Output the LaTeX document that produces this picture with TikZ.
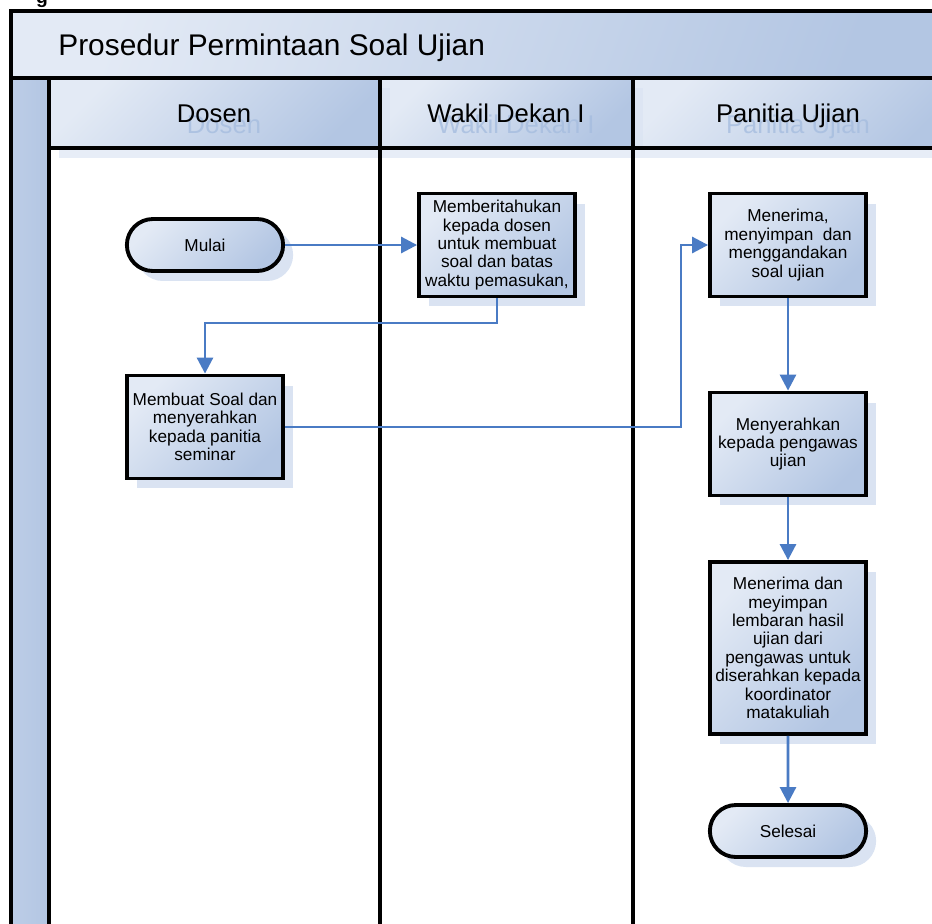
\documentclass[tikz,border=0pt]{standalone}
\usepackage{fontspec}
\setmainfont{Liberation Sans}
\usetikzlibrary{arrows.meta,positioning,shapes.misc,shadows}

\definecolor{laneLight}{HTML}{E3EAF5}
\definecolor{laneDark}{HTML}{B3C6E3}
\definecolor{shadowBlue}{HTML}{DAE3F2}
\definecolor{flowBlue}{HTML}{4A7BC4}
\definecolor{ghostBlue}{HTML}{A6BDDF}

\begin{document}
\begin{tikzpicture}[
  x=0.02cm, y=-0.02cm,
  >={Triangle[length=3.2mm, width=3.2mm]},
  bluefill/.style={left color=laneLight, right color=laneDark, shading angle=45},
  boxshadow/.style={drop shadow={shadow xshift=0.2cm, shadow yshift=-0.2cm,
                    fill=shadowBlue, opacity=1}},
  activity/.style={rectangle, draw, line width=2.2pt, bluefill, boxshadow,
                   minimum width=3.12cm, minimum height=2.06cm, align=center,
                   inner sep=1pt, font=\fontsize{9.8}{10.5}\selectfont},
  terminal/.style={rounded rectangle, draw, line width=2.2pt, bluefill, boxshadow,
                   minimum width=3.36cm, minimum height=1.04cm,
                   font=\fontsize{9.8}{10.5}\selectfont},
  flow/.style={->, line width=1.6pt, flowBlue},
  divider/.style={line width=2.3pt, black},
  lanelab/.style={anchor=base, font=\fontsize{14.6}{16}\selectfont},
  ghostlab/.style={lanelab, text=ghostBlue, text opacity=.8},
  hdshadow/.style={fill=shadowBlue, opacity=.65}
]
\useasboundingbox (0,0) rectangle (932,923);
\clip (0,0) rectangle (932,923);

% ---------- Pool and lanes ----------
\fill[bluefill, shading angle=70] (11,11) rectangle (950,78);
\fill[left color=laneDark!80!laneLight, right color=laneDark] (11,78) rectangle (49,940);
\foreach \xa/\xb in {49/380,380/633,633/960}
  \fill[bluefill] (\xa,78) rectangle (\xb,148);
\foreach \xa/\xb in {49/380,380/633,633/960}{
  \fill[hdshadow] (\xa+10,148) rectangle (\xb+10,158);
  \fill[hdshadow] (\xb+2,88) rectangle (\xb+10,148);
}

\node[anchor=base west, inner sep=0pt, font=\fontsize{17}{20}\selectfont] (title) at (58,55)
  {Prosedur Permintaan Soal Ujian};
\node[anchor=base, font=\bfseries\fontsize{11}{12}\selectfont] (cutg) at (42,3) {g};

% ---------- Lane labels ----------
\foreach \nm/\lab/\x in {dosen/Dosen/214,wadek/Wakil Dekan I/506,panitia/Panitia Ujian/788}{
  \node[ghostlab] (\nm g) at (\x+10,133) {\lab};
  \node[lanelab] (\nm) at (\x,122) {\lab};
}

% ---------- Frame lines ----------
\draw[divider] (11,940) -- (11,11) -- (950,11);
\draw[divider] (11,78) -- (950,78);
\draw[divider] (49,148) -- (950,148);
\foreach \x in {49,380,633}
  \draw[divider] (\x,78) -- (\x,940);

% ---------- Steps ----------
\node[terminal] (mulai) at (205,245) {Mulai};
\node[activity] (beritahu) at (497,245)
  {Memberitahukan\\kepada dosen\\untuk membuat\\soal dan batas\\waktu pemasukan,};
\node[activity] (buat) at (205,427)
  {Membuat Soal dan\\menyerahkan\\kepada panitia\\seminar};
\node[activity] (terima) at (788,245)
  {Menerima,\\menyimpan\ \ dan\\menggandakan\\soal ujian};
\node[activity] (serah) at (788,444)
  {Menyerahkan\\kepada pengawas\\ujian};
\node[activity, minimum height=3.44cm] (simpan) at (788,648)
  {Menerima dan\\meyimpan\\lembaran hasil\\ujian dari\\pengawas untuk\\diserahkan kepada\\koordinator\\matakuliah};
\node[terminal] (selesai) at (788,831) {Selesai};

% ---------- Flows ----------
\draw[flow] (mulai.east) -- (beritahu.west);
\draw[flow] (beritahu.south) -- (497,323) -| (buat.north);
\draw[flow] (buat.east) -- (681,427) |- (terima.west);
\draw[flow] (terima) -- (serah);
\draw[flow] (serah) -- (simpan);
\draw[flow] (simpan) -- (selesai);

\end{tikzpicture}
\end{document}
